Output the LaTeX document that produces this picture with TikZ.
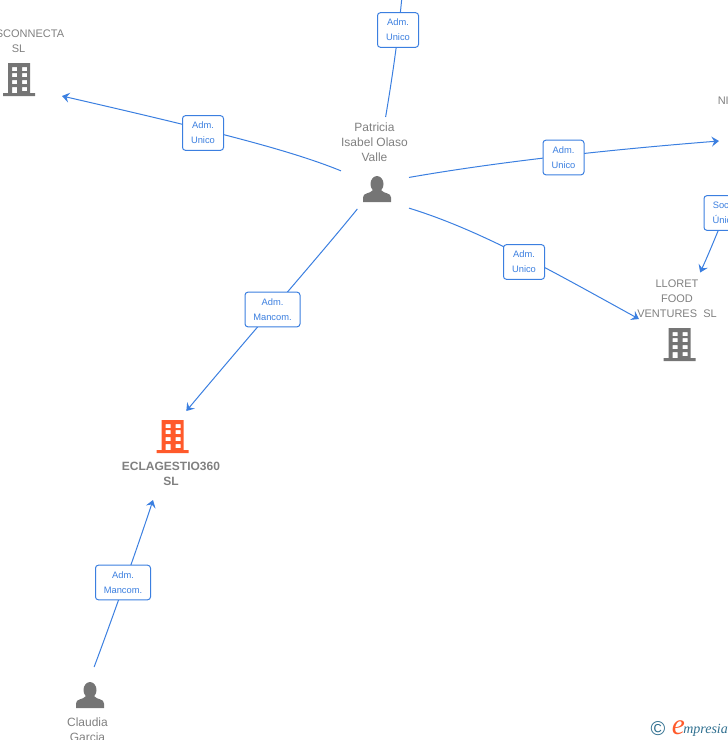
\documentclass[tikz,border=0pt]{standalone}
\usepackage{fontspec}
\setmainfont{Liberation Sans}
\newfontfamily\logofont{Liberation Serif}
\usetikzlibrary{arrows.meta}

\definecolor{linkblue}{HTML}{3B7FE0}
\definecolor{iconorange}{HTML}{FF5A2B}
\definecolor{icongray}{HTML}{757575}
\definecolor{labelgray}{HTML}{808080}
\definecolor{logoteal}{HTML}{2F6F8F}

\tikzset{
building/.pic = {
  \path[pic actions, even odd rule]
    (-16,14) rectangle (16,17)
    (-11,-16) rectangle (11,14)
    (-7,-12) rectangle (-2,-8) (3,-12) rectangle (8,-8)
    (-7,-6) rectangle (-2,-2) (3,-6) rectangle (8,-2)
    (-7,1) rectangle (-2,5) (3,1) rectangle (8,5)
    (-7,8) rectangle (-2,14) (3,8) rectangle (8,12);
},
person/.pic = {
  \path[pic actions] (0,-5) ellipse[x radius=6.5, y radius=8];
  \path[pic actions] (-14,13) -- (-14,8.5) .. controls (-14,3.5) and (-7,5) .. (-4,1)
    -- (4,1) .. controls (7,5) and (14,3.5) .. (14,8.5) -- (14,13) -- cycle;
},
}

\begin{document}
\begin{tikzpicture}[
x=0.75pt, y=-0.75pt,
>={Stealth[length=5.5pt, width=7.5pt, inset=2pt]},
hub/.style = {minimum width=#1, inner sep=0pt, outer sep=0pt},
name label/.style = {text=labelgray, align=center, inner sep=0pt,
  font=\fontsize{9pt}{11.25pt}\selectfont},
caps label/.style = {name label, font=\fontsize{8.25pt}{11.25pt}\selectfont},
role box/.style = {draw=linkblue, fill=white, rounded corners=2.2pt, line width=0.75pt,
  text=linkblue, align=center, inner sep=0pt, minimum height=26pt,
  font=\fontsize{7pt}{11.25pt}\selectfont},
link/.style = {draw=linkblue, line width=0.75pt},
]

\useasboundingbox (0,0) rectangle (728,740);

% entities
\node (patricia) [hub=51pt, minimum height=69pt] at (375,163) {};
\node (patricia label) [name label] at (374.5,142) {Patricia\\Isabel Olaso\\Valle};
\pic [fill=icongray] at (377,189) {person};

\node (sconnecta) [hub=46.5pt, minimum height=51pt] at (31,62) {};
\node (sconnecta label) [caps label] at (30,34) {SCONNECTA};
\node (sconnecta sl) [caps label] at (18.5,49) {SL};
\pic [fill=icongray] at (19,79) {building};

\node (ni) [hub=40.5pt, minimum height=36pt] at (746,141) {};
\node (ni label) [caps label, anchor=west] at (717.5,101) {NI};

\node (lloret) [hub=57.75pt, minimum height=66.75pt] at (677.5,317) {};
\node (lloret label) [caps label] at (677,299) {LLORET\\FOOD\\VENTURES\ \ SL};
\pic [fill=icongray] at (679.5,344) {building};

\node (ecla) [hub=73.5pt, minimum height=66.75pt] at (171,455.5) {};
\node (ecla label) [name label, font=\fontsize{9pt}{11.25pt}\selectfont\bfseries] at (171,473.5) {ECLAGESTIO360\\SL};
\pic [fill=iconorange] at (172.5,436) {building};

\node (claudia) [hub=52.5pt, minimum height=58.5pt] at (90,706) {};
\node (claudia label) [name label] at (87.5,729.5) {Claudia\\Garcia};
\pic [fill=icongray] at (90,695) {person};

\coordinate (top end) at (402,-4);

% connectors
\draw[link] (patricia.77.7) .. controls (391,85) and (398,40) .. (top end);
\draw[link,->] (patricia.193.6) .. controls (290,150) and (210,130) .. (sconnecta.south east);
\draw[link,->] (patricia.-23) .. controls (480,165) and (580,152) .. (ni.west);
\draw[link,->] (patricia.-53.5) .. controls (480,230) and (550,270) .. (lloret.183);
\draw[link,->] (patricia.249.7) .. controls (320,255) and (250,335) .. (ecla.71.4);
\draw[link,->] (claudia.84) .. controls (104,641) and (135,555) .. (ecla.248);
\draw[link,->] (ni.south) .. controls (730,200) and (715,240) .. (lloret.63);

% role boxes
\node (role top) [role box, minimum width=30.75pt] at (398,30) {Adm.\\Unico};
\node (role sconnecta) [role box, minimum width=30.75pt] at (203,133) {Adm.\\Unico};
\node (role ni) [role box, minimum width=30.75pt] at (563.5,157.5) {Adm.\\Unico};
\node (role lloret) [role box, minimum width=30.75pt] at (524,262) {Adm.\\Unico};
\node (role ecla) [role box, minimum width=41.25pt] at (272.5,309.5) {Adm.\\Mancom.};
\node (role claudia) [role box, minimum width=41.25pt] at (123,582.5) {Adm.\\Mancom.};
\node (role socio) [role box, minimum width=30.75pt] at (724.5,213) {Socio\\Único};

% logo
\node (logo c) [text=logoteal, inner sep=0pt, font=\fontsize{15pt}{15pt}\selectfont] at (658,729) {\textcopyright};
\node (logo e) [text=iconorange, inner sep=0pt, font=\logofont\itshape\fontsize{22pt}{22pt}\selectfont] at (678.5,727.5) {e};
\node (logo rest) [text=logoteal, inner sep=0pt, anchor=west, font=\logofont\itshape\fontsize{10.5pt}{10.5pt}\selectfont] at (683,730) {mpresia};

\end{tikzpicture}
\end{document}
